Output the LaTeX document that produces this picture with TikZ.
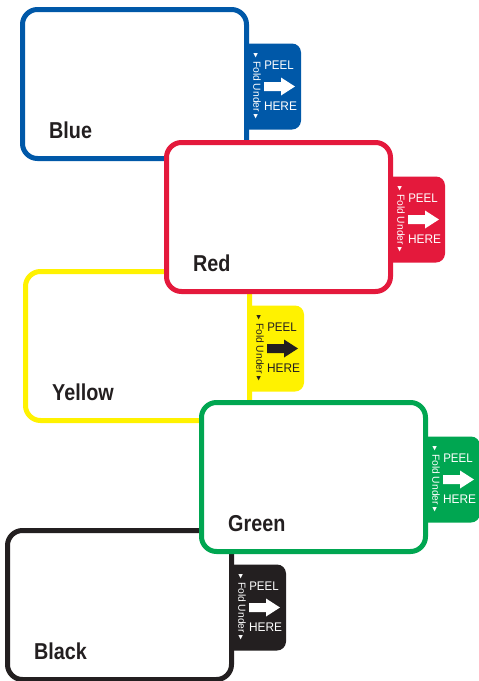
\documentclass[tikz,border=0pt]{standalone}
\usepackage{fontspec}
\setmainfont{Liberation Sans}
\newfontfamily\trifont{DejaVu Sans}
\definecolor{cblue}{RGB}{0,88,168}
\definecolor{cred}{RGB}{228,25,60}
\definecolor{cyellow}{RGB}{255,242,0}
\definecolor{cgreen}{RGB}{0,166,81}
\definecolor{cblack}{RGB}{35,31,32}
\tikzset{
  card/.style={draw=#1, line width=5pt, fill=white, rounded corners=15pt,
    minimum width=224pt, minimum height=149pt, inner sep=0pt, outer sep=0pt,
    anchor=north west},
  lbl/.style={font=\bfseries\fontsize{23}{23}\selectfont, text=cblack, inner sep=0pt},
  fold/.style={font=\fontsize{10.3}{10.3}\selectfont, rotate=-90, inner sep=0pt},
  peel/.style={font=\fontsize{12.5}{12.5}\selectfont, inner sep=0pt},
}
\newcommand\tri{{\trifont\fontsize{9}{9}\selectfont ▸}}
\newcommand\peelcard[6]{%
  \fill[#2, rounded corners=9pt] ({#3+200},{#4+34}) rectangle ({#3+278.5},{#4+120});
  \node[card=#2] (#1) at (#3,#4) {};
  \node[lbl, anchor=base west] (#1-name) at ({#3+26.5},{#4+128.5}) {\scalebox{0.86}[1]{#5}};
  \node[fold, text=#6] (#1-fold) at ({#3+234.5},{#4+77}) {\tri\ Fold Under \tri};
  \node[peel, text=#6] (#1-peel) at ({#3+256.5},{#4+56}) {\scalebox{0.92}[1]{PEEL}};
  \node[peel, text=#6] (#1-here) at ({#3+258},{#4+97}) {\scalebox{0.95}[1]{HERE}};
  \fill[#6] ({#3+241.5},{#4+72.5}) -- ({#3+258.5},{#4+72.5}) -- ({#3+258.5},{#4+68})
    -- ({#3+272.5},{#4+77}) -- ({#3+258.5},{#4+86}) -- ({#3+258.5},{#4+81.5})
    -- ({#3+241.5},{#4+81.5}) -- cycle;
}
\begin{document}
\begin{tikzpicture}[x=1pt,y=-1pt]
\useasboundingbox (0,0) rectangle (479,681);
\fill[white] (0,0) rectangle (479,681);
\peelcard{blue}{cblue}{22.5}{9.5}{Blue}{white}
\peelcard{yellow}{cyellow}{25.5}{271.5}{Yellow}{cblack}
\peelcard{black}{cblack}{7.5}{530.5}{Black}{white}
\peelcard{red}{cred}{166.5}{142.5}{Red}{white}
\peelcard{green}{cgreen}{201.5}{402.5}{Green}{white}
\end{tikzpicture}
\end{document}
